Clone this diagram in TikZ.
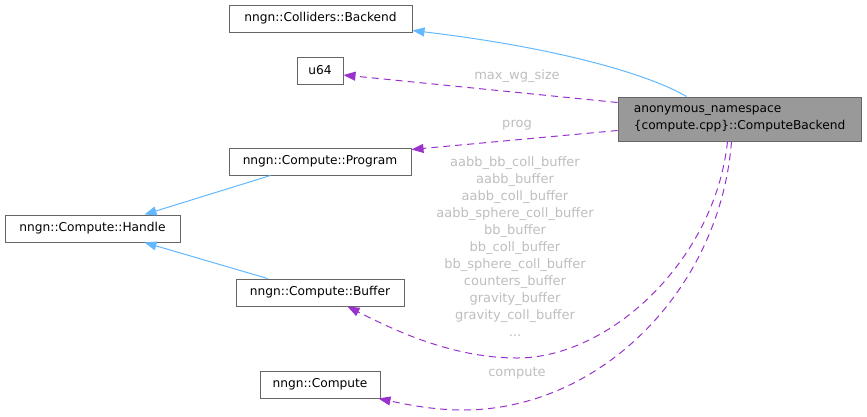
\documentclass[tikz,border=0pt]{standalone}
\usepackage{fontspec}
\setmainfont{DejaVu Sans}
\usetikzlibrary{arrows.meta}
\definecolor{edgeblue}{HTML}{63B8FF}
\definecolor{edgepurple}{HTML}{9A32CD}
\definecolor{boxborder}{HTML}{666666}
\definecolor{labelgrey}{HTML}{BEBEBE}
\definecolor{mainfill}{HTML}{999999}
\begin{document}
\begin{tikzpicture}[x=1pt,y=-1pt,
  box/.style={draw=boxborder, line width=1pt, fill=white, inner sep=0pt,
    font=\fontsize{12.2}{17}\selectfont},
  mainbox/.style={box, fill=mainfill, align=left},
  inherit/.style={draw=edgeblue, line width=1pt, -{Triangle[length=12pt,width=9pt]}},
  usage/.style={draw=edgepurple, line width=1pt, dash pattern=on 7pt off 5pt, -{Triangle[length=12pt,width=9pt]}},
  elabel/.style={text=labelgrey, inner sep=0pt, align=center, font=\fontsize{13}{17}\selectfont}
]
\useasboundingbox (0,0) rectangle (867,416);

\node[box, minimum width=183pt, minimum height=27pt] (colb) at (320.5,18.5) {nngn::Colliders::Backend};
\node[box, minimum width=46pt, minimum height=27pt] (u64) at (320,70.5) {u64};
\node[mainbox, minimum width=243pt, minimum height=44pt] (cb) at (739.5,119) {anonymous\_namespace\\\{compute.cpp\}::ComputeBackend};
\node[box, minimum width=182pt, minimum height=27pt] (prog) at (320,161.5) {nngn::Compute::Program};
\node[box, minimum width=175pt, minimum height=27pt] (handle) at (92.5,228.5) {nngn::Compute::Handle};
\node[box, minimum width=168pt, minimum height=27pt] (buf) at (320,292.5) {nngn::Compute::Buffer};
\node[box, minimum width=120pt, minimum height=27pt] (comp) at (320,384.5) {nngn::Compute};

% inheritance
\draw[inherit] ([xshift=69pt]cb.north west) .. controls (650,75) and (560,48) .. ([yshift=2pt]colb.south east);
\draw[inherit] ([xshift=42pt]prog.south west) -- ([xshift=140pt]handle.north west);
\draw[inherit] ([xshift=32pt]buf.north west) -- ([xshift=140pt]handle.south west);

% usage
\draw[usage] ([yshift=-6pt]cb.north west) -- ([yshift=-4.5pt]u64.east);
\node[elabel] (lmax) at (517,76) {max\_wg\_size};
\draw[usage] ([yshift=11pt]cb.south west) -- ([yshift=-2pt]prog.north east);
\node[elabel] (lprog) at (517,125) {prog};
\draw[usage] ([xshift=110pt]cb.south west) .. controls (715,260) and (610,358) .. (517,358)
  .. controls (450,358) and (390,328) .. ([xshift=112pt]buf.south west);
\node[elabel] (lbuf) at (515,247) {aabb\_bb\_coll\_buffer\\aabb\_buffer\\aabb\_coll\_buffer\\aabb\_sphere\_coll\_buffer\\bb\_buffer\\bb\_coll\_buffer\\bb\_sphere\_coll\_buffer\\counters\_buffer\\gravity\_buffer\\gravity\_coll\_buffer\\...};
\draw[usage] ([xshift=114pt]cb.south west) .. controls (720,290) and (600,410) .. (463,410)
  .. controls (430,410) and (400,403) .. ([xshift=-2pt]comp.south east);
\node[elabel] (lcomp) at (517,373) {compute};
\end{tikzpicture}
\end{document}
